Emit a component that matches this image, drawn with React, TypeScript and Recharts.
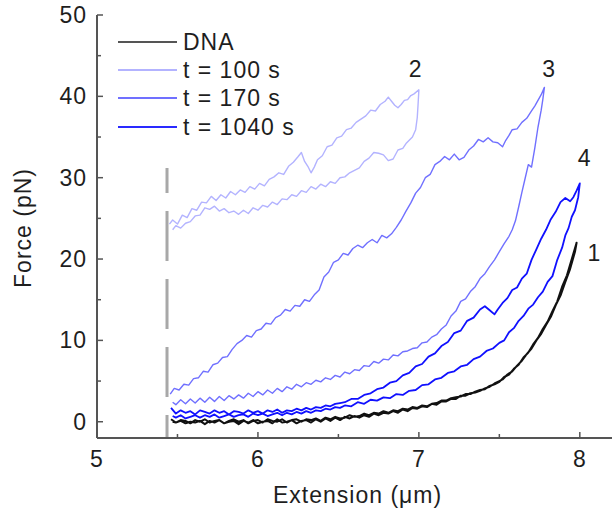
import { LineChart, Line, XAxis, YAxis, ReferenceDot } from "recharts";

type Pt = [number, number];

const FONT = "'Liberation Sans', Arial, Helvetica, sans-serif";
const TEXT = "#1e1e1e";
const AXIS = "#555";

const xTicks = [5, 5.5, 6, 6.5, 7, 7.5, 8];
const yTicks = [0, 5, 10, 15, 20, 25, 30, 35, 40, 45, 50];

// DNA, stretch then relax
const dnaOut: Pt[] = [
  [5.46, 0.3], [5.49, -0.1], [5.52, 0.2], [5.55, 0.1], [5.58, -0.2], [5.61, 0.2], [5.64, 0.0], [5.67, 0.3],
  [5.7, -0.1], [5.73, 0.1], [5.76, 0.2], [5.79, -0.2], [5.82, 0.1], [5.85, 0.3], [5.88, 0.0], [5.91, 0.2],
  [5.94, -0.2], [5.97, 0.1], [6.0, 0.2], [6.03, -0.1], [6.06, 0.3], [6.09, 0.1], [6.12, 0.0], [6.15, 0.3],
  [6.18, -0.1], [6.21, 0.2], [6.24, 0.3], [6.27, 0.0], [6.3, 0.3], [6.33, 0.2], [6.36, 0.4], [6.39, 0.1],
  [6.42, 0.5], [6.45, 0.3], [6.48, 0.6], [6.51, 0.4], [6.54, 0.5], [6.57, 0.8], [6.6, 0.6], [6.63, 0.7],
  [6.66, 1.0], [6.69, 0.8], [6.72, 1.1], [6.75, 1.0], [6.78, 1.3], [6.81, 1.1], [6.84, 1.4], [6.87, 1.3],
  [6.9, 1.6], [6.93, 1.5], [6.96, 1.8], [6.99, 1.7], [7.02, 2.0], [7.05, 1.9], [7.08, 2.2], [7.11, 2.3],
  [7.14, 2.6], [7.17, 2.6], [7.2, 2.9], [7.23, 3.0], [7.26, 3.1], [7.29, 3.4], [7.32, 3.4], [7.35, 3.7],
  [7.38, 3.9], [7.41, 4.0], [7.44, 4.4], [7.47, 4.6], [7.5, 4.9], [7.53, 5.5], [7.56, 5.8], [7.59, 6.5],
  [7.62, 7.0], [7.65, 7.9], [7.68, 8.5], [7.71, 9.5], [7.74, 10.3], [7.77, 11.4], [7.8, 12.3], [7.83, 13.6],
  [7.86, 14.8], [7.89, 16.6], [7.92, 18.0], [7.95, 20.0], [7.98, 22.0],
];
const dnaBack: Pt[] = [
  [7.97, 20.9], [7.94, 18.8], [7.91, 17.2], [7.88, 15.5], [7.85, 14.3], [7.82, 12.9], [7.79, 11.9], [7.76, 10.8],
  [7.73, 10.0], [7.7, 9.0], [7.67, 8.3], [7.64, 7.5], [7.61, 6.9], [7.58, 6.2], [7.55, 5.8], [7.52, 5.2],
  [7.5, 5.0], [7.47, 4.7], [7.44, 4.3], [7.41, 4.1], [7.38, 3.8], [7.35, 3.6], [7.32, 3.5], [7.29, 3.2],
  [7.26, 3.2], [7.23, 2.8], [7.2, 2.8], [7.17, 2.5], [7.14, 2.5], [7.11, 2.1], [7.08, 2.2], [7.05, 1.8],
  [7.02, 1.9], [6.99, 1.6], [6.96, 1.7], [6.93, 1.3], [6.9, 1.5], [6.87, 1.1], [6.84, 1.3], [6.81, 1.0],
  [6.78, 1.1], [6.75, 0.8], [6.72, 1.0], [6.69, 0.6], [6.66, 0.8], [6.63, 0.5], [6.6, 0.7], [6.57, 0.4],
  [6.54, 0.6], [6.51, 0.2], [6.48, 0.5], [6.45, 0.1], [6.42, 0.4], [6.39, 0.0], [6.36, 0.3], [6.33, -0.1],
  [6.3, 0.2], [6.27, 0.1], [6.24, -0.2], [6.21, 0.2], [6.18, 0.0], [6.15, -0.1], [6.12, 0.3], [6.09, -0.2],
  [6.06, 0.1], [6.03, 0.0], [6.0, -0.2], [5.97, 0.2], [5.94, -0.1], [5.91, 0.1], [5.88, -0.3], [5.85, 0.1],
  [5.82, 0.0], [5.79, -0.2], [5.76, 0.2], [5.73, -0.1], [5.7, 0.1], [5.67, -0.3], [5.64, 0.1], [5.61, -0.1],
  [5.58, 0.0], [5.55, -0.2], [5.52, 0.1], [5.49, -0.1], [5.47, 0.0],
];

// t = 100 s
const t100Out: Pt[] = [
  [5.45, 24.3], [5.47, 24.8], [5.5, 24.3], [5.53, 25.4], [5.56, 25.1], [5.59, 26.2], [5.62, 26.0], [5.65, 27.0],
  [5.68, 26.9], [5.71, 27.7], [5.74, 27.2], [5.77, 27.9], [5.8, 27.5], [5.83, 28.3], [5.86, 27.9], [5.89, 28.5],
  [5.92, 28.2], [5.95, 28.9], [5.98, 28.6], [6.01, 29.3], [6.04, 29.0], [6.07, 29.8], [6.1, 30.1], [6.13, 30.6],
  [6.16, 30.4], [6.19, 31.4], [6.22, 31.9], [6.25, 32.6], [6.27, 33.1], [6.29, 32.0], [6.31, 31.4], [6.33, 30.6],
  [6.35, 31.3], [6.37, 32.2], [6.4, 32.7], [6.43, 33.8], [6.46, 34.0], [6.49, 34.9], [6.52, 35.1], [6.55, 35.9],
  [6.58, 36.1], [6.61, 36.8], [6.64, 37.2], [6.67, 37.6], [6.7, 38.3], [6.73, 38.2], [6.76, 39.0], [6.79, 39.4],
  [6.81, 39.9], [6.83, 39.4], [6.85, 38.9], [6.87, 38.6], [6.89, 39.0], [6.91, 39.5], [6.93, 39.6], [6.95, 40.1],
  [6.97, 40.3], [7.0, 40.8],
];
const t100Back: Pt[] = [
  [6.995, 39.0], [6.99, 37.4], [6.98, 35.9], [6.96, 35.0], [6.94, 34.6], [6.92, 34.2], [6.9, 33.6], [6.87, 33.4],
  [6.84, 32.3], [6.81, 32.1], [6.78, 32.8], [6.75, 33.0], [6.72, 33.1], [6.69, 32.4], [6.66, 32.0], [6.63, 31.2],
  [6.6, 30.9], [6.57, 30.6], [6.54, 30.1], [6.51, 30.0], [6.48, 29.3], [6.45, 29.5], [6.42, 28.9], [6.39, 29.2],
  [6.36, 28.6], [6.33, 28.9], [6.3, 28.2], [6.27, 28.4], [6.24, 27.7], [6.21, 27.9], [6.18, 27.3], [6.15, 27.4],
  [6.12, 26.7], [6.09, 27.0], [6.06, 26.4], [6.03, 26.6], [6.0, 26.0], [5.97, 26.3], [5.94, 25.6], [5.91, 26.0],
  [5.88, 25.5], [5.85, 25.9], [5.82, 25.7], [5.79, 26.2], [5.76, 25.9], [5.73, 26.5], [5.7, 26.1], [5.67, 26.3],
  [5.64, 25.4], [5.61, 25.3], [5.58, 24.6], [5.55, 24.4], [5.52, 23.8], [5.49, 24.1], [5.47, 23.6],
];

// t = 170 s
const t170Out: Pt[] = [
  [5.455, 3.4], [5.48, 4.1], [5.51, 3.9], [5.54, 4.6], [5.57, 4.5], [5.6, 5.3], [5.63, 5.4], [5.66, 6.2],
  [5.69, 6.1], [5.72, 7.0], [5.75, 7.2], [5.78, 7.9], [5.81, 8.0], [5.84, 8.9], [5.87, 9.6], [5.9, 10.0],
  [5.93, 10.6], [5.96, 10.4], [5.99, 11.2], [6.02, 11.4], [6.05, 12.1], [6.08, 12.0], [6.11, 12.8], [6.14, 13.1],
  [6.17, 13.8], [6.2, 13.6], [6.23, 14.3], [6.26, 14.2], [6.29, 15.0], [6.32, 14.8], [6.35, 15.6], [6.38, 16.2],
  [6.41, 17.8], [6.44, 18.4], [6.47, 19.6], [6.5, 19.9], [6.53, 20.7], [6.56, 20.5], [6.59, 21.3], [6.62, 21.7],
  [6.65, 21.4], [6.68, 22.0], [6.71, 22.4], [6.74, 22.0], [6.77, 22.9], [6.8, 22.6], [6.83, 23.1], [6.86, 23.9],
  [6.89, 24.8], [6.92, 25.9], [6.95, 26.9], [6.98, 28.1], [7.01, 28.8], [7.04, 30.0], [7.07, 30.4], [7.1, 31.6],
  [7.13, 32.0], [7.16, 32.6], [7.19, 32.2], [7.22, 32.9], [7.25, 32.2], [7.28, 32.5], [7.31, 33.4], [7.34, 33.9],
  [7.37, 34.7], [7.4, 34.4], [7.43, 34.9], [7.46, 34.4], [7.49, 34.3], [7.52, 33.8], [7.54, 34.6], [7.56, 35.2],
  [7.58, 35.9], [7.61, 36.0], [7.64, 36.8], [7.67, 37.3], [7.7, 38.2], [7.72, 38.8], [7.74, 39.5], [7.76, 40.2],
  [7.78, 41.1],
];
const t170Back: Pt[] = [
  [7.77, 39.6], [7.76, 38.3], [7.74, 36.2], [7.72, 33.6], [7.7, 31.3], [7.68, 31.6], [7.66, 29.9], [7.64, 28.2],
  [7.62, 26.4], [7.6, 24.7], [7.58, 23.6], [7.56, 22.8], [7.53, 21.9], [7.5, 20.9], [7.47, 19.9], [7.44, 19.1],
  [7.41, 18.2], [7.38, 17.6], [7.35, 16.6], [7.32, 16.0], [7.29, 15.1], [7.26, 14.8], [7.23, 13.6], [7.2, 13.0],
  [7.17, 11.9], [7.14, 11.4], [7.11, 10.7], [7.08, 10.4], [7.05, 9.8], [7.02, 9.7], [6.99, 9.1], [6.96, 9.0],
  [6.93, 8.7], [6.9, 8.6], [6.87, 8.1], [6.84, 8.2], [6.81, 7.6], [6.78, 7.7], [6.75, 7.2], [6.72, 7.4],
  [6.69, 6.8], [6.66, 6.9], [6.63, 6.3], [6.6, 6.4], [6.57, 5.9], [6.54, 6.1], [6.51, 5.5], [6.48, 5.7],
  [6.45, 5.2], [6.42, 5.4], [6.39, 4.9], [6.36, 5.1], [6.33, 4.6], [6.3, 4.8], [6.27, 4.3], [6.24, 4.6],
  [6.21, 4.0], [6.18, 4.3], [6.15, 3.7], [6.12, 4.1], [6.09, 3.5], [6.06, 3.9], [6.03, 3.3], [6.0, 3.7],
  [5.97, 3.1], [5.94, 3.5], [5.91, 2.9], [5.88, 3.3], [5.85, 2.8], [5.82, 3.2], [5.79, 2.6], [5.76, 3.1],
  [5.73, 2.5], [5.7, 3.0], [5.67, 2.4], [5.64, 2.9], [5.61, 2.3], [5.58, 2.8], [5.55, 2.2], [5.52, 2.7],
  [5.49, 2.1], [5.47, 2.4],
];

// t = 1040 s
const t1040Out: Pt[] = [
  [5.46, 1.7], [5.49, 1.0], [5.52, 1.4], [5.55, 1.1], [5.58, 1.3], [5.61, 0.9], [5.64, 1.4], [5.67, 1.2],
  [5.7, 1.0], [5.73, 1.4], [5.76, 1.1], [5.79, 1.3], [5.82, 0.9], [5.85, 1.3], [5.88, 1.2], [5.91, 1.0],
  [5.94, 1.4], [5.97, 1.1], [6.0, 1.3], [6.03, 1.0], [6.06, 1.4], [6.09, 1.2], [6.12, 1.5], [6.15, 1.1],
  [6.18, 1.4], [6.21, 1.3], [6.24, 1.6], [6.27, 1.4], [6.3, 1.7], [6.33, 1.5], [6.36, 1.8], [6.39, 1.7],
  [6.42, 2.0], [6.45, 1.9], [6.48, 2.2], [6.51, 2.3], [6.54, 2.4], [6.58, 2.8], [6.62, 2.8], [6.66, 3.3],
  [6.7, 3.5], [6.74, 4.0], [6.78, 4.2], [6.82, 4.8], [6.86, 5.0], [6.9, 5.7], [6.94, 6.0], [6.98, 6.8],
  [7.02, 7.1], [7.06, 8.0], [7.1, 8.4], [7.14, 9.3], [7.18, 9.8], [7.22, 10.9], [7.26, 11.2], [7.3, 12.4],
  [7.34, 12.8], [7.38, 13.8], [7.41, 14.2], [7.44, 13.7], [7.47, 13.2], [7.49, 13.8], [7.52, 14.6], [7.55, 15.2],
  [7.58, 16.2], [7.61, 16.5], [7.64, 17.6], [7.67, 18.2], [7.7, 19.9], [7.73, 21.2], [7.76, 22.5], [7.79, 23.6],
  [7.82, 24.9], [7.85, 25.8], [7.88, 27.0], [7.91, 27.5], [7.94, 27.1], [7.96, 27.6], [7.98, 28.4], [8.0, 29.3],
];
const t1040Back: Pt[] = [
  [7.99, 27.6], [7.97, 26.0], [7.95, 25.2], [7.93, 23.8], [7.91, 22.9], [7.89, 21.4], [7.86, 19.9], [7.83, 17.9],
  [7.8, 17.2], [7.77, 16.0], [7.74, 15.3], [7.71, 14.4], [7.68, 13.9], [7.65, 13.0], [7.62, 12.4], [7.59, 11.5],
  [7.56, 11.0], [7.53, 10.0], [7.5, 9.7], [7.46, 9.0], [7.42, 8.7], [7.38, 8.0], [7.34, 7.7], [7.3, 7.0],
  [7.26, 6.8], [7.22, 6.2], [7.18, 6.0], [7.14, 5.4], [7.1, 5.2], [7.06, 4.6], [7.02, 4.5], [6.98, 3.9],
  [6.94, 3.8], [6.9, 3.3], [6.86, 3.4], [6.82, 2.9], [6.78, 3.0], [6.74, 2.6], [6.7, 2.7], [6.66, 2.2],
  [6.62, 2.4], [6.58, 1.9], [6.54, 2.0], [6.51, 1.7], [6.48, 1.8], [6.45, 1.5], [6.42, 1.6], [6.39, 1.3],
  [6.36, 1.4], [6.33, 1.1], [6.3, 1.3], [6.27, 1.0], [6.24, 1.2], [6.21, 0.9], [6.18, 1.1], [6.15, 0.8],
  [6.12, 1.1], [6.09, 0.9], [6.06, 0.7], [6.03, 1.0], [6.0, 0.8], [5.97, 1.0], [5.94, 0.6], [5.91, 0.9],
  [5.88, 0.8], [5.85, 0.6], [5.82, 0.9], [5.79, 0.7], [5.76, 0.5], [5.73, 0.9], [5.7, 0.6], [5.67, 0.8],
  [5.64, 0.5], [5.61, 0.8], [5.58, 0.6], [5.55, 0.4], [5.52, 0.8], [5.49, 0.5], [5.47, 0.7],
];

// grey dashed marker near the start extension
const startMarker: Pt[] = [[5.435, 31.2], [5.435, -2]];

const curveTags = [
  { x: 8.09, y: 20.8, text: "1" },
  { x: 6.98, y: 43.4, text: "2" },
  { x: 7.81, y: 43.4, text: "3" },
  { x: 8.03, y: 32.5, text: "4" },
];

const toRows = (pts: Pt[]) => pts.map(([x, y]) => ({ x, y }));

const series = [
  { name: "t = 100 s", color: "#b3b3ff", width: 1.4, pts: [...t100Out, ...t100Back] },
  { name: "t = 170 s", color: "#7070ff", width: 1.4, pts: [...t170Out, ...t170Back] },
  { name: "t = 1040 s", color: "#1010ff", width: 1.8, pts: [...t1040Out, ...t1040Back] },
  { name: "DNA", color: "#111", width: 2, pts: [...dnaOut, ...dnaBack] },
];

const legendItems = [
  { name: "DNA", color: "#555" },
  { name: "t = 100 s", color: "#b3b3ff" },
  { name: "t = 170 s", color: "#7070ff" },
  { name: "t = 1040 s", color: "#2a2aff" },
];

const textStyle = { fontFamily: FONT, fontSize: 23, letterSpacing: 1, fill: TEXT };

const isMajor = (v: number, step: number) => Math.abs(v / step - Math.round(v / step)) < 1e-6;

function BottomTick({ x, y, payload }: any) {
  const major = isMajor(payload.value, 1);
  return (
    <g>
      <line x1={x} x2={x} y1={y} y2={y - (major ? 6 : 4)} stroke={AXIS} strokeWidth={1.5} />
      {major && (
        <text x={x} y={y + 29} textAnchor="middle" {...textStyle}>
          {payload.value}
        </text>
      )}
    </g>
  );
}

function TopTick({ x, y, payload }: any) {
  const major = isMajor(payload.value, 1);
  return <line x1={x} x2={x} y1={y} y2={y + (major ? 6 : 4)} stroke={AXIS} strokeWidth={1.5} />;
}

function LeftTick({ x, y, payload }: any) {
  const major = isMajor(payload.value, 10);
  return (
    <g>
      <line x1={x} x2={x + (major ? 6 : 4)} y1={y} y2={y} stroke={AXIS} strokeWidth={1.5} />
      {major && (
        <text x={x - 10} y={y + 8} textAnchor="end" {...textStyle}>
          {payload.value}
        </text>
      )}
    </g>
  );
}

function RightTick({ x, y, payload }: any) {
  const major = isMajor(payload.value, 10);
  return <line x1={x} x2={x - (major ? 6 : 4)} y1={y} y2={y} stroke={AXIS} strokeWidth={1.5} />;
}

export default function App() {
  return (
    <div style={{ position: "absolute", left: 0, top: 0, width: 613, height: 512, background: "#fff" }}>
      <LineChart width={613} height={512} margin={{ top: 15, right: 1, bottom: 0, left: 0 }}>
        <XAxis
          type="number"
          dataKey="x"
          domain={[5, 8.2]}
          allowDataOverflow
          ticks={xTicks}
          height={74}
          tickSize={0}
          tickMargin={0}
          tick={<BottomTick />}
          axisLine={{ stroke: AXIS, strokeWidth: 2 }}
          tickLine={false}
        />
        <XAxis
          xAxisId="top"
          orientation="top"
          type="number"
          dataKey="x"
          domain={[5, 8.2]}
          allowDataOverflow
          ticks={xTicks}
          height={0}
          tickSize={0}
          tickMargin={0}
          tick={<TopTick />}
          axisLine={{ stroke: AXIS, strokeWidth: 2 }}
          tickLine={false}
        />
        <YAxis
          type="number"
          domain={[-2, 50]}
          allowDataOverflow
          ticks={yTicks}
          width={97}
          tickSize={0}
          tickMargin={0}
          tick={<LeftTick />}
          axisLine={{ stroke: AXIS, strokeWidth: 2 }}
          tickLine={false}
        />
        <YAxis
          yAxisId="right"
          orientation="right"
          type="number"
          domain={[-2, 50]}
          allowDataOverflow
          ticks={yTicks}
          width={0}
          tickSize={0}
          tickMargin={0}
          tick={<RightTick />}
          axisLine={{ stroke: AXIS, strokeWidth: 2 }}
          tickLine={false}
        />
        <Line
          xAxisId="top"
          yAxisId="right"
          data={toRows(startMarker)}
          dataKey="y"
          type="linear"
          stroke="#a8a8a8"
          strokeWidth={3}
          strokeDasharray="50 18"
          strokeDashoffset={25}
          dot={false}
          activeDot={false}
          legendType="none"
          isAnimationActive={false}
        />
        {series.map((s) => (
          <Line
            key={s.name}
            name={s.name}
            data={toRows(s.pts)}
            dataKey="y"
            type="linear"
            stroke={s.color}
            strokeWidth={s.width}
            strokeLinejoin="round"
            dot={false}
            activeDot={false}
            isAnimationActive={false}
          />
        ))}
        {curveTags.map((t) => (
          <ReferenceDot
            key={t.text}
            x={t.x}
            y={t.y}
            r={0}
            ifOverflow="visible"
            label={{ value: t.text, position: "center", ...textStyle }}
          />
        ))}
      </LineChart>

      <div
        style={{
          position: "absolute",
          left: 118,
          top: 28,
          fontFamily: FONT,
          fontSize: 23,
          letterSpacing: 1,
          color: TEXT,
          lineHeight: "28.2px",
        }}
      >
        {legendItems.map((it) => (
          <div key={it.name} style={{ display: "flex", alignItems: "center", height: 28.2 }}>
            <span style={{ display: "inline-block", width: 59, borderTop: `2px solid ${it.color}`, marginRight: 6 }} />
            <span>{it.name}</span>
          </div>
        ))}
      </div>

      <div
        style={{
          position: "absolute",
          left: 273,
          top: 482,
          fontFamily: FONT,
          fontSize: 23,
          letterSpacing: 1,
          color: TEXT,
          whiteSpace: "nowrap",
        }}
      >
        Extension (μm)
      </div>
      <div
        style={{
          position: "absolute",
          left: 23,
          top: 228,
          transform: "translate(-50%, -50%) rotate(-90deg)",
          fontFamily: FONT,
          fontSize: 23,
          letterSpacing: 1,
          color: TEXT,
          whiteSpace: "nowrap",
        }}
      >
        Force (pN)
      </div>
    </div>
  );
}
